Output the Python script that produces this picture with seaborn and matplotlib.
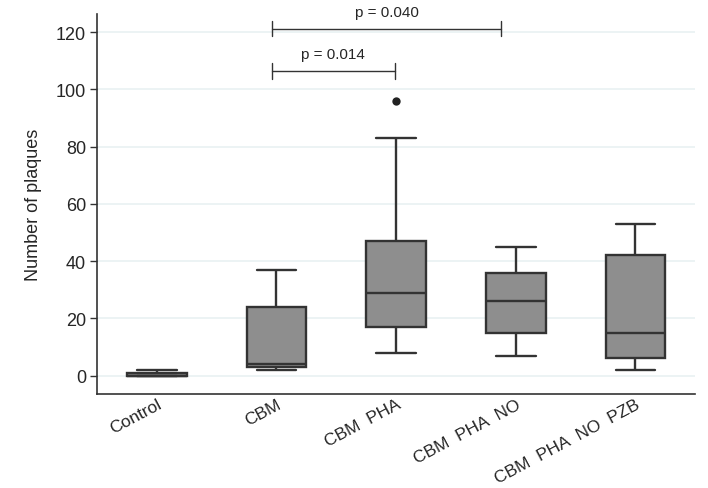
import matplotlib
matplotlib.use("Agg")
import matplotlib.pyplot as plt
import seaborn as sns
import pandas as pd

# Five-number summaries (min, Q1, median, Q3, max)
groups = ["Control", "CBM", "CBM  PHA", "CBM  PHA  NO", "CBM  PHA  NO  PZB"]
control = [0, 0, 0, 1, 2]
cbm = [2, 3, 4, 24, 37]
cbm_pha = [8, 17, 29, 47, 83]
cbm_pha_no = [7, 15, 26, 36, 45]
cbm_pha_no_pzb = [2, 6, 15, 42, 53]
outlier_group = ["CBM  PHA"]
outlier_value = [96]
yticks = [0, 20, 40, 60, 80, 100, 120]
brackets = [(0.96, 1.99, 106.5, "p = 0.014"), (0.96, 2.88, 121.3, "p = 0.040")]

sns.set_style("white")
plt.rcParams["font.family"] = ["Liberation Sans", "DejaVu Sans"]

rows = []
for g, vals in zip(groups, [control, cbm, cbm_pha, cbm_pha_no, cbm_pha_no_pzb]):
    for v in vals:
        rows.append({"group": g, "value": v})
df = pd.DataFrame(rows)
out = pd.DataFrame({"group": outlier_group, "value": outlier_value})

fig, ax = plt.subplots(figsize=(7.08, 4.89), dpi=100)
fig.subplots_adjust(left=0.137, right=0.982, top=0.97, bottom=0.193)

for y in yticks:
    ax.axhline(y, color="#e9f1f2", lw=1.2, zorder=0)

n_before = len(ax.lines)
sns.boxplot(data=df, x="group", y="value", order=groups, whis=(0, 100),
            width=0.5, color="#8e8e8e", saturation=1, ax=ax,
            linecolor="#333333", linewidth=1.7, showfliers=False)
# widen whisker caps to match the reference
for line in ax.lines[n_before:]:
    xd = list(line.get_xdata())
    yd = list(line.get_ydata())
    if len(xd) == 2 and yd[0] == yd[1]:
        w = abs(xd[1] - xd[0])
        if 0.2 < w < 0.3:
            c = (xd[0] + xd[1]) / 2
            line.set_xdata([c - 0.165, c + 0.165])
sns.stripplot(data=out, x="group", y="value", order=groups, jitter=False,
              color="#222222", size=6, ax=ax)

ax.set_xlim(-0.5, 4.5)
ax.set_ylim(-6.3, 126.5)
ax.set_yticks(yticks)
ax.set_xlabel("")
ax.set_ylabel("Number of plaques", fontsize=13, labelpad=10)
ax.tick_params(axis="y", length=5, width=1, color="#333333", labelsize=13, pad=3, left=True)
ax.tick_params(axis="x", length=0, labelsize=12.5, pad=2)
for lab in ax.get_xticklabels():
    lab.set_rotation(28)
    lab.set_ha("right")
    lab.set_rotation_mode("anchor")

for s in ["top", "right"]:
    ax.spines[s].set_visible(False)
for s in ["left", "bottom"]:
    ax.spines[s].set_color("#333333")
    ax.spines[s].set_linewidth(1.2)

for x0, x1, y, txt in brackets:
    ax.plot([x0, x1], [y, y], color="#333333", lw=1)
    ax.plot([x0, x0], [y - 2.7, y + 2.7], color="#333333", lw=1)
    ax.plot([x1, x1], [y - 2.7, y + 2.7], color="#333333", lw=1)
    ax.text((x0 + x1) / 2, y + 3.5, txt, ha="center", va="bottom", fontsize=11)

fig.savefig("out.png", dpi=100)
